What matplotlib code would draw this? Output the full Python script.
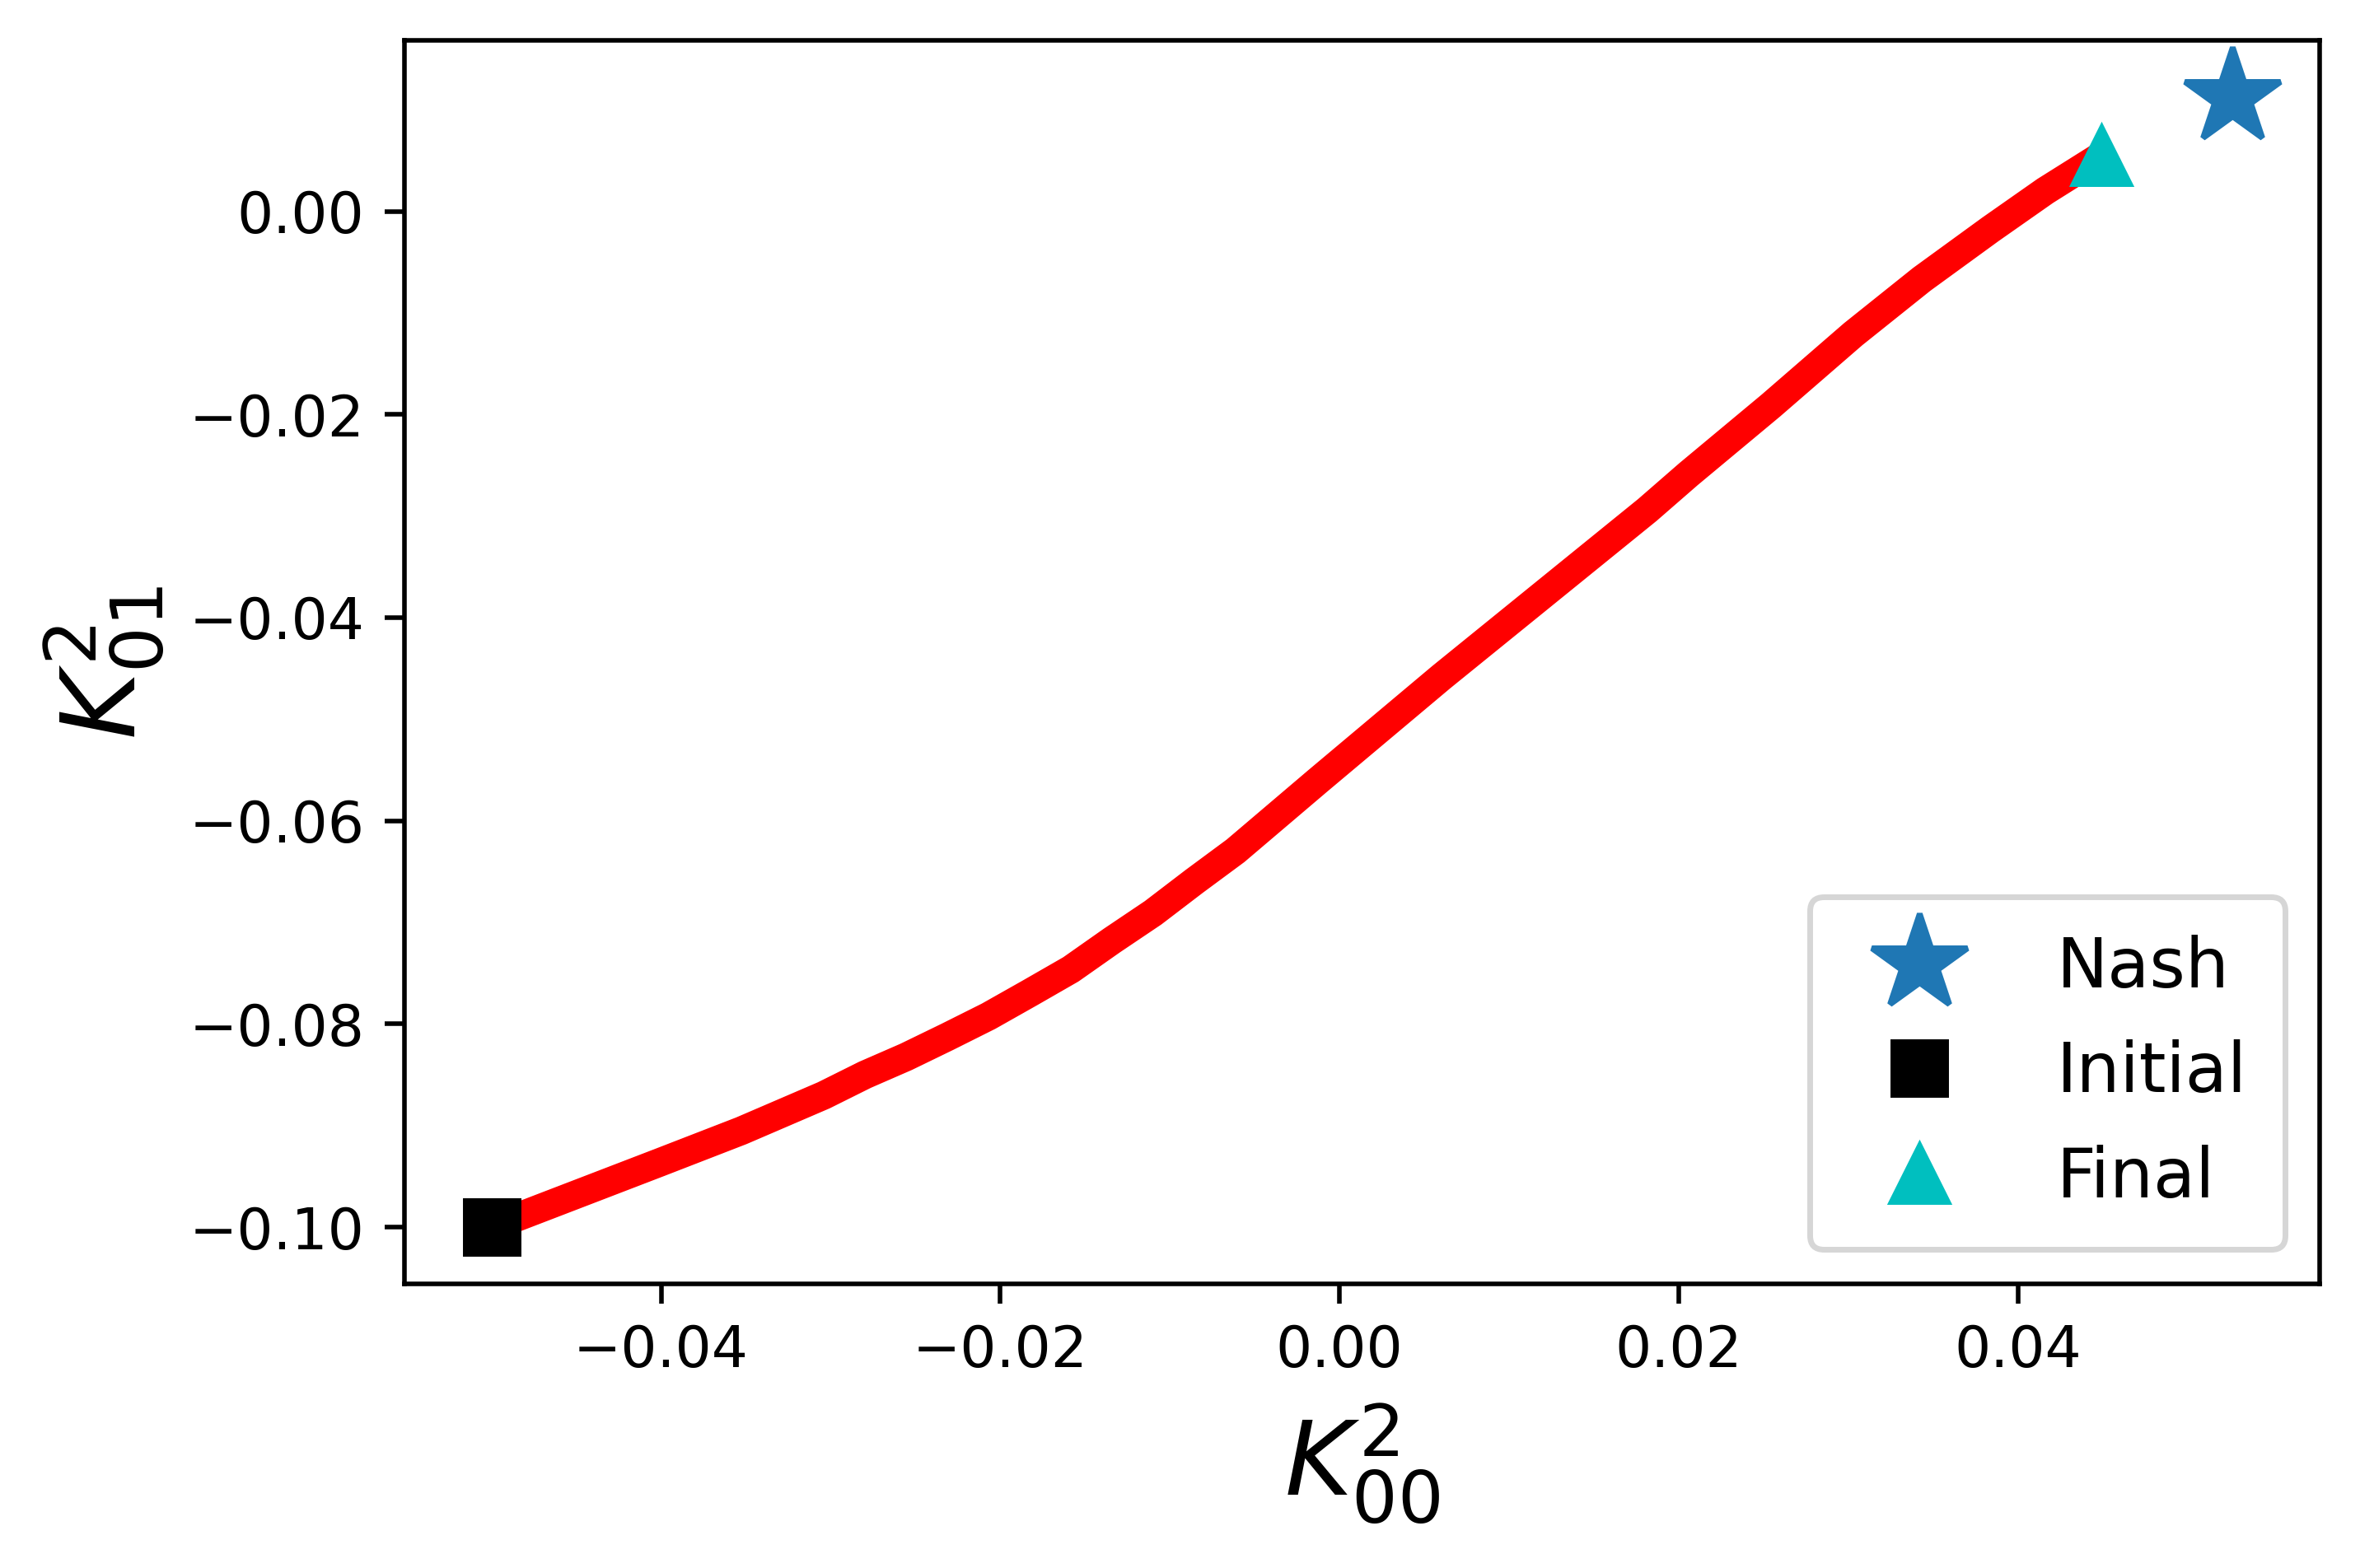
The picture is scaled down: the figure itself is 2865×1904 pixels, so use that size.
import numpy as np
import matplotlib
matplotlib.use("Agg")
import matplotlib.pyplot as plt

# trajectory of (K00, K01)
traj_k00 = [-0.05, -0.04012, -0.03527, -0.03041, -0.02798, -0.02556, -0.02313,
            -0.0207, -0.01827, -0.01584, -0.01342, -0.01099, -0.00856, -0.00613,
            -0.00127, 0.00601, 0.01815, 0.02058, 0.02544, 0.03029, 0.03434,
            0.03839, 0.04162, 0.04491]
traj_k01 = [-0.1, -0.09366, -0.09052, -0.08703, -0.08501, -0.08325, -0.08128,
            -0.07925, -0.07696, -0.07463, -0.07179, -0.06906, -0.06596, -0.06296,
            -0.05606, -0.04585, -0.02941, -0.02588, -0.01912, -0.0121, -0.00669,
            -0.00177, 0.00201, 0.00546]

nash_pt = (0.05265, 0.01124)
init_pt = (-0.05, -0.1)
final_pt = (0.04491, 0.00546)


def main():
    fig = plt.figure(figsize=(5.73, 3.808), dpi=500)
    ax = fig.add_axes([0.1714, 0.1814, 0.8114, 0.7927])

    ax.plot(traj_k00, traj_k01, color='r', linewidth=5)
    ax.plot(nash_pt[0], nash_pt[1], '*', markersize=17.5, label='Nash')
    ax.plot(init_pt[0], init_pt[1], 'ks', markersize=9.1, label='Initial')
    ax.plot(final_pt[0], final_pt[1], 'c^', markersize=9.7, label='Final')

    ax.set_xlabel(r'$K^2_{00}$', fontsize=18)
    ax.set_ylabel(r'$K^2_{01}$', fontsize=18)
    ax.legend(fontsize=12, loc='lower right', borderpad=0.55,
              handlelength=2.1, handletextpad=0.95, labelspacing=0.56)

    fig.savefig('out.png', dpi=500)


if __name__ == "__main__":
    main()
